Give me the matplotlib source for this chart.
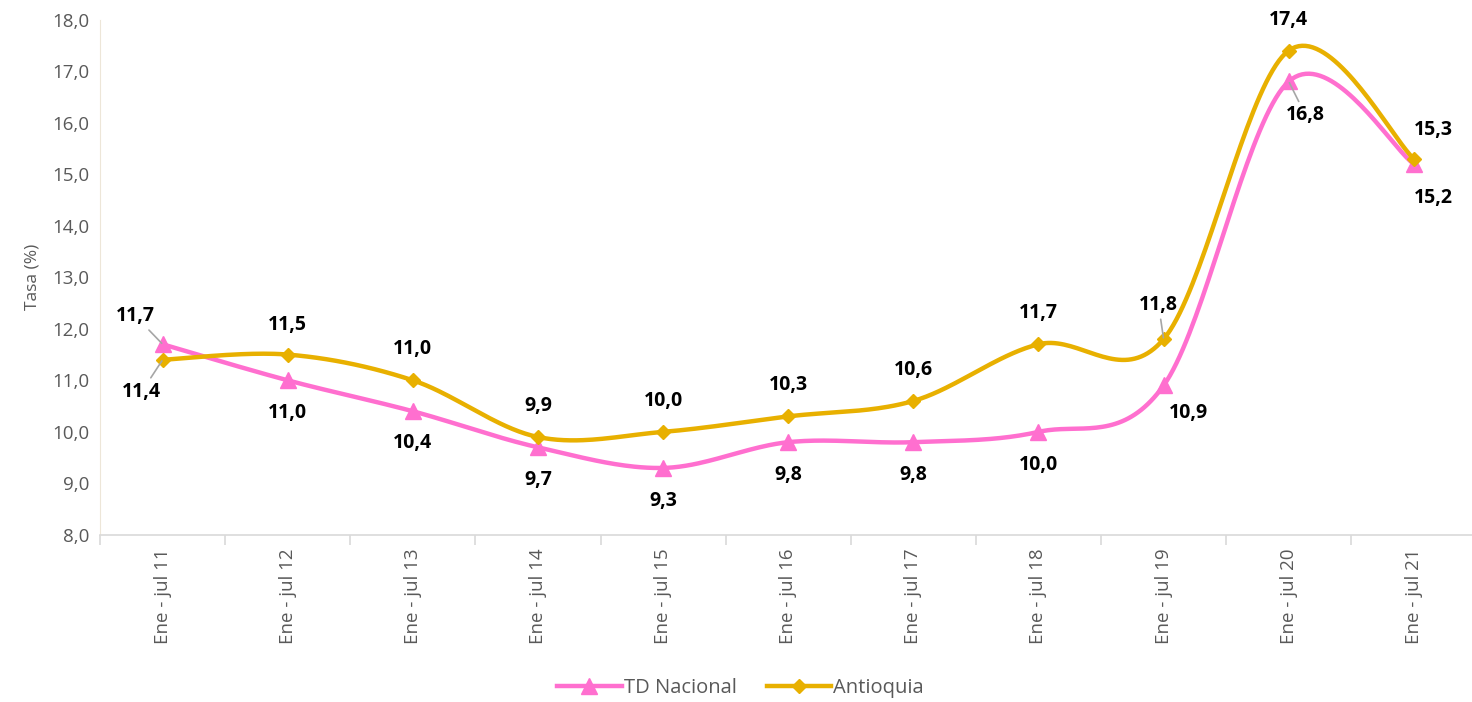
import numpy as np
import matplotlib.pyplot as plt
from matplotlib.lines import Line2D

plt.rcParams['font.family'] = ['Open Sans', 'DejaVu Sans']

# datos
categorias = ['Ene - jul 11', 'Ene - jul 12', 'Ene - jul 13', 'Ene - jul 14',
              'Ene - jul 15', 'Ene - jul 16', 'Ene - jul 17', 'Ene - jul 18',
              'Ene - jul 19', 'Ene - jul 20', 'Ene - jul 21']
td_nacional = [11.7, 11.0, 10.4, 9.7, 9.3, 9.8, 9.8, 10.0, 10.9, 16.8, 15.2]
antioquia = [11.4, 11.5, 11.0, 9.9, 10.0, 10.3, 10.6, 11.7, 11.8, 17.4, 15.3]

ROSA = '#FF6FCF'
ORO = '#E8B000'
GRIS = '#595959'


def suavizar(x, y, n=40):
    # curva tipo Excel (Catmull-Rom / Bezier)
    x = np.asarray(x, float)
    y = np.asarray(y, float)
    px = np.concatenate([[x[0]], x, [x[-1]]])
    py = np.concatenate([[y[0]], y, [y[-1]]])
    xs, ys = [], []
    t = np.linspace(0, 1, n)
    for i in range(1, len(px) - 2):
        p0, p1, p2, p3 = (np.array([px[j], py[j]]) for j in range(i - 1, i + 3))
        c1 = p1 + (p2 - p0) / 6
        c2 = p2 - (p3 - p1) / 6
        b = ((1 - t) ** 3)[:, None] * p1 + (3 * (1 - t) ** 2 * t)[:, None] * c1 \
            + (3 * (1 - t) * t ** 2)[:, None] * c2 + (t ** 3)[:, None] * p2
        xs.append(b[:, 0])
        ys.append(b[:, 1])
    return np.concatenate(xs), np.concatenate(ys)


x = np.arange(len(categorias))

fig = plt.figure(figsize=(14.72, 7.02), dpi=100)
ax = fig.add_axes([0.068, 0.238, 0.935, 0.734])

sx, sy = suavizar(x, td_nacional)
ax.plot(sx, sy, color=ROSA, lw=3.2, solid_capstyle='round', zorder=3)
ax.plot(x, td_nacional, ls='none', marker='^', ms=11, color=ROSA, zorder=4)
sx, sy = suavizar(x, antioquia)
ax.plot(sx, sy, color=ORO, lw=3.2, solid_capstyle='round', zorder=5)
ax.plot(x, antioquia, ls='none', marker='D', ms=7.5, color=ORO, zorder=6)

# etiquetas (desplazamiento en pixeles)
off_td = [(-27, 28), (0, -33), (0, -32), (0, -33), (0, -33), (0, -33), (0, -33),
          (0, -33), (25, -28), (17, -34), (20, -34)]
off_an = [(-21, -32), (0, 30), (0, 31), (0, 31), (0, 31), (0, 31), (0, 31),
          (0, 31), (-5, 34), (0, 31), (20, 29)]
lineas_td = {0, 9}
lineas_an = {0, 8}

for serie, offs, guias in [(td_nacional, off_td, lineas_td),
                           (antioquia, off_an, lineas_an)]:
    for i, v in enumerate(serie):
        dx, dy = offs[i]
        props = None
        if i in guias:
            props = dict(arrowstyle='-', color='#A6A6A6', lw=1.2,
                         shrinkA=1, shrinkB=1)
        ax.annotate(f'{v:.1f}'.replace('.', ','), (x[i], v),
                    xytext=(dx, dy), textcoords='offset pixels',
                    ha='center', va='center', fontsize=14, fontweight='bold',
                    color='black', arrowprops=props, zorder=7)

ax.set_xlim(-0.5, len(categorias) - 0.5)
ax.set_ylim(8, 18)
ax.set_yticks(np.arange(8, 18.1, 1))
ax.set_yticklabels([f'{v:.1f}'.replace('.', ',') for v in np.arange(8, 18.1, 1)])
ax.set_xticks(x)
ax.set_xticklabels(categorias, rotation=90)
ax.set_xticks(np.arange(-0.5, len(categorias), 1), minor=True)
ax.tick_params(axis='x', which='major', length=0, pad=10, labelsize=13.5, labelcolor=GRIS)
ax.tick_params(axis='x', which='minor', length=7, color='#D9D9D9', width=1.2)
ax.tick_params(axis='y', length=0, pad=8, labelsize=13.5, labelcolor=GRIS)
ax.set_ylabel('Tasa (%)', fontsize=12.5, color=GRIS, labelpad=8)

for s in ['top', 'right']:
    ax.spines[s].set_visible(False)
ax.spines['left'].set_color('#EDE6D8')
ax.spines['bottom'].set_color('#D9D9D9')
ax.spines['bottom'].set_linewidth(1.2)

h = [Line2D([], [], color=ROSA, lw=3.2, marker='^', ms=11),
     Line2D([], [], color=ORO, lw=3.2, marker='D', ms=7.5)]
fig.legend(h, ['TD Nacional', 'Antioquia'], loc='center', bbox_to_anchor=(0.503, 0.02),
           ncol=2, frameon=False, fontsize=14.5, labelcolor=GRIS,
           handlelength=3.2, handletextpad=0.1, columnspacing=1.5)

fig.savefig('out.png', dpi=100)
